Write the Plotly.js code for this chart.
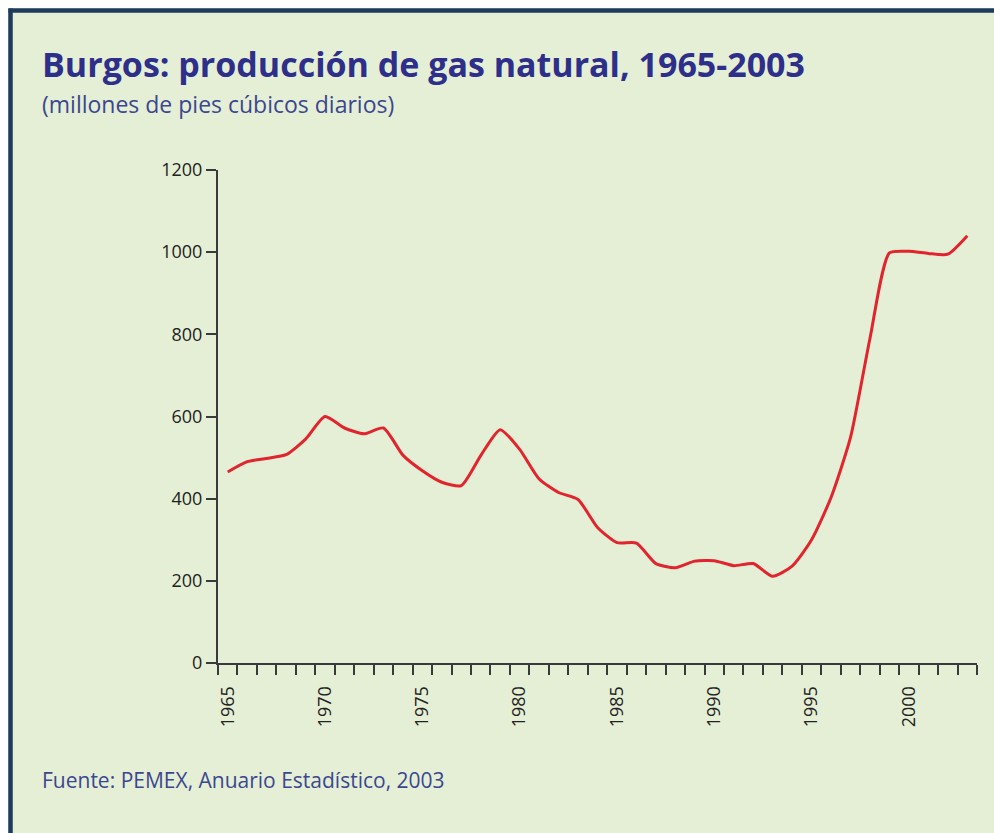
<!DOCTYPE html>
<html>
<head>
<meta charset="utf-8">
<script src="https://cdn.plot.ly/plotly-3.0.1.min.js"></script>
<style>
html, body { margin: 0; padding: 0; background: #ffffff; }
#chart { width: 994px; height: 833px; }
</style>
</head>
<body>
<div id="chart"></div>
<script>
// ---- data ----
const years = [1965, 1966, 1967, 1968, 1969, 1970, 1971, 1972, 1973, 1974,
               1975, 1976, 1977, 1978, 1979, 1980, 1981, 1982, 1983, 1984,
               1985, 1986, 1987, 1988, 1989, 1990, 1991, 1992, 1993, 1994,
               1995, 1996, 1997, 1998, 1999, 2000, 2001, 2002, 2003];
const production = [465, 490, 498, 507, 545, 600, 572, 558, 572, 506,
                    468, 440, 432, 505, 568, 520, 448, 415, 398, 330,
                    293, 292, 242, 232, 248, 249, 237, 242, 211, 236,
                    300, 403, 549, 790, 998, 1002, 997, 995, 1040];
const yTickValues = [0, 200, 400, 600, 800, 1000, 1200];
const xLabelYears = [1965, 1970, 1975, 1980, 1985, 1990, 1995, 2000];
const xLabelText = xLabelYears.map(String);
const titleText = 'Burgos: producción de gas natural, 1965-2003';
const subtitleText = '(millones de pies cúbicos diarios)';
const sourceText = 'Fuente: PEMEX, Anuario Estadístico, 2003';

// ---- layout helpers ----
const W = 994, H = 833;
const M = { l: 218, r: 17, t: 170, b: 170 };
const px = x => (x - M.l) / (W - M.l - M.r);
const py = y => (H - M.b - y) / (H - M.t - M.b);

const BG = '#e5efd5';
const AXIS = '#3a3a3a';
const BORDER = '#1d3b5c';
const NAVY = '#2d2f8a';
const SUBNAVY = '#3b4790';

const trace = {
  x: years,
  y: production,
  type: 'scatter',
  mode: 'lines',
  line: { color: '#e1242d', width: 3, shape: 'spline', smoothing: 0.6 },
  hoverinfo: 'x+y'
};

const layout = {
  width: W,
  height: H,
  margin: M,
  paper_bgcolor: BG,
  plot_bgcolor: BG,
  showlegend: false,
  font: { family: 'Open Sans, sans-serif', color: '#222222' },
  xaxis: {
    range: [1964.5, 2003.5],
    tickmode: 'array',
    tickvals: xLabelYears,
    ticktext: xLabelText,
    tickangle: -90,
    ticks: 'outside',
    ticklen: 14,
    tickcolor: 'rgba(0,0,0,0)',
    showline: true,
    linecolor: AXIS,
    linewidth: 2,
    showgrid: false,
    zeroline: false,
    tickfont: { family: 'Open Sans, sans-serif', size: 18, color: '#222222' },
    minor: {
      ticks: 'outside',
      tick0: 1964.5,
      dtick: 1,
      ticklen: 10,
      tickwidth: 2,
      tickcolor: AXIS,
      showgrid: false
    },
    fixedrange: true
  },
  yaxis: {
    range: [0, 1200],
    tickmode: 'array',
    tickvals: yTickValues,
    ticks: 'outside',
    ticklen: 10,
    tickwidth: 2,
    tickcolor: AXIS,
    showline: true,
    linecolor: AXIS,
    linewidth: 2,
    showgrid: false,
    zeroline: false,
    tickfont: { family: 'Open Sans, sans-serif', size: 18, color: '#222222' },
    fixedrange: true
  },
  shapes: [
    // white outside frame (top and left)
    { type: 'rect', xref: 'paper', yref: 'paper', layer: 'below',
      x0: px(-5), x1: px(1000), y0: py(8.5), y1: py(-5),
      fillcolor: '#ffffff', line: { width: 0 } },
    { type: 'rect', xref: 'paper', yref: 'paper', layer: 'below',
      x0: px(-5), x1: px(8.5), y0: py(840), y1: py(-5),
      fillcolor: '#ffffff', line: { width: 0 } },
    // dark border lines
    { type: 'line', xref: 'paper', yref: 'paper',
      x0: px(8.5), x1: px(1000), y0: py(10.5), y1: py(10.5),
      line: { color: BORDER, width: 4.5 } },
    { type: 'line', xref: 'paper', yref: 'paper',
      x0: px(10.5), x1: px(10.5), y0: py(8.5), y1: py(840),
      line: { color: BORDER, width: 4.5 } }
  ],
  annotations: [
    { text: titleText, xref: 'paper', yref: 'paper', x: px(40), y: py(64),
      xanchor: 'left', yanchor: 'middle', showarrow: false,
      font: { family: 'Open Sans, sans-serif', size: 34, weight: 700, color: NAVY } },
    { text: subtitleText, xref: 'paper', yref: 'paper', x: px(40), y: py(104),
      xanchor: 'left', yanchor: 'middle', showarrow: false,
      font: { family: 'Open Sans, sans-serif', size: 23, color: SUBNAVY } },
    { text: sourceText, xref: 'paper', yref: 'paper', x: px(40), y: py(780),
      xanchor: 'left', yanchor: 'middle', showarrow: false,
      font: { family: 'Open Sans, sans-serif', size: 21, color: SUBNAVY } }
  ]
};

Plotly.newPlot('chart', [trace], layout, { displayModeBar: false, staticPlot: true });
</script>
</body>
</html>
